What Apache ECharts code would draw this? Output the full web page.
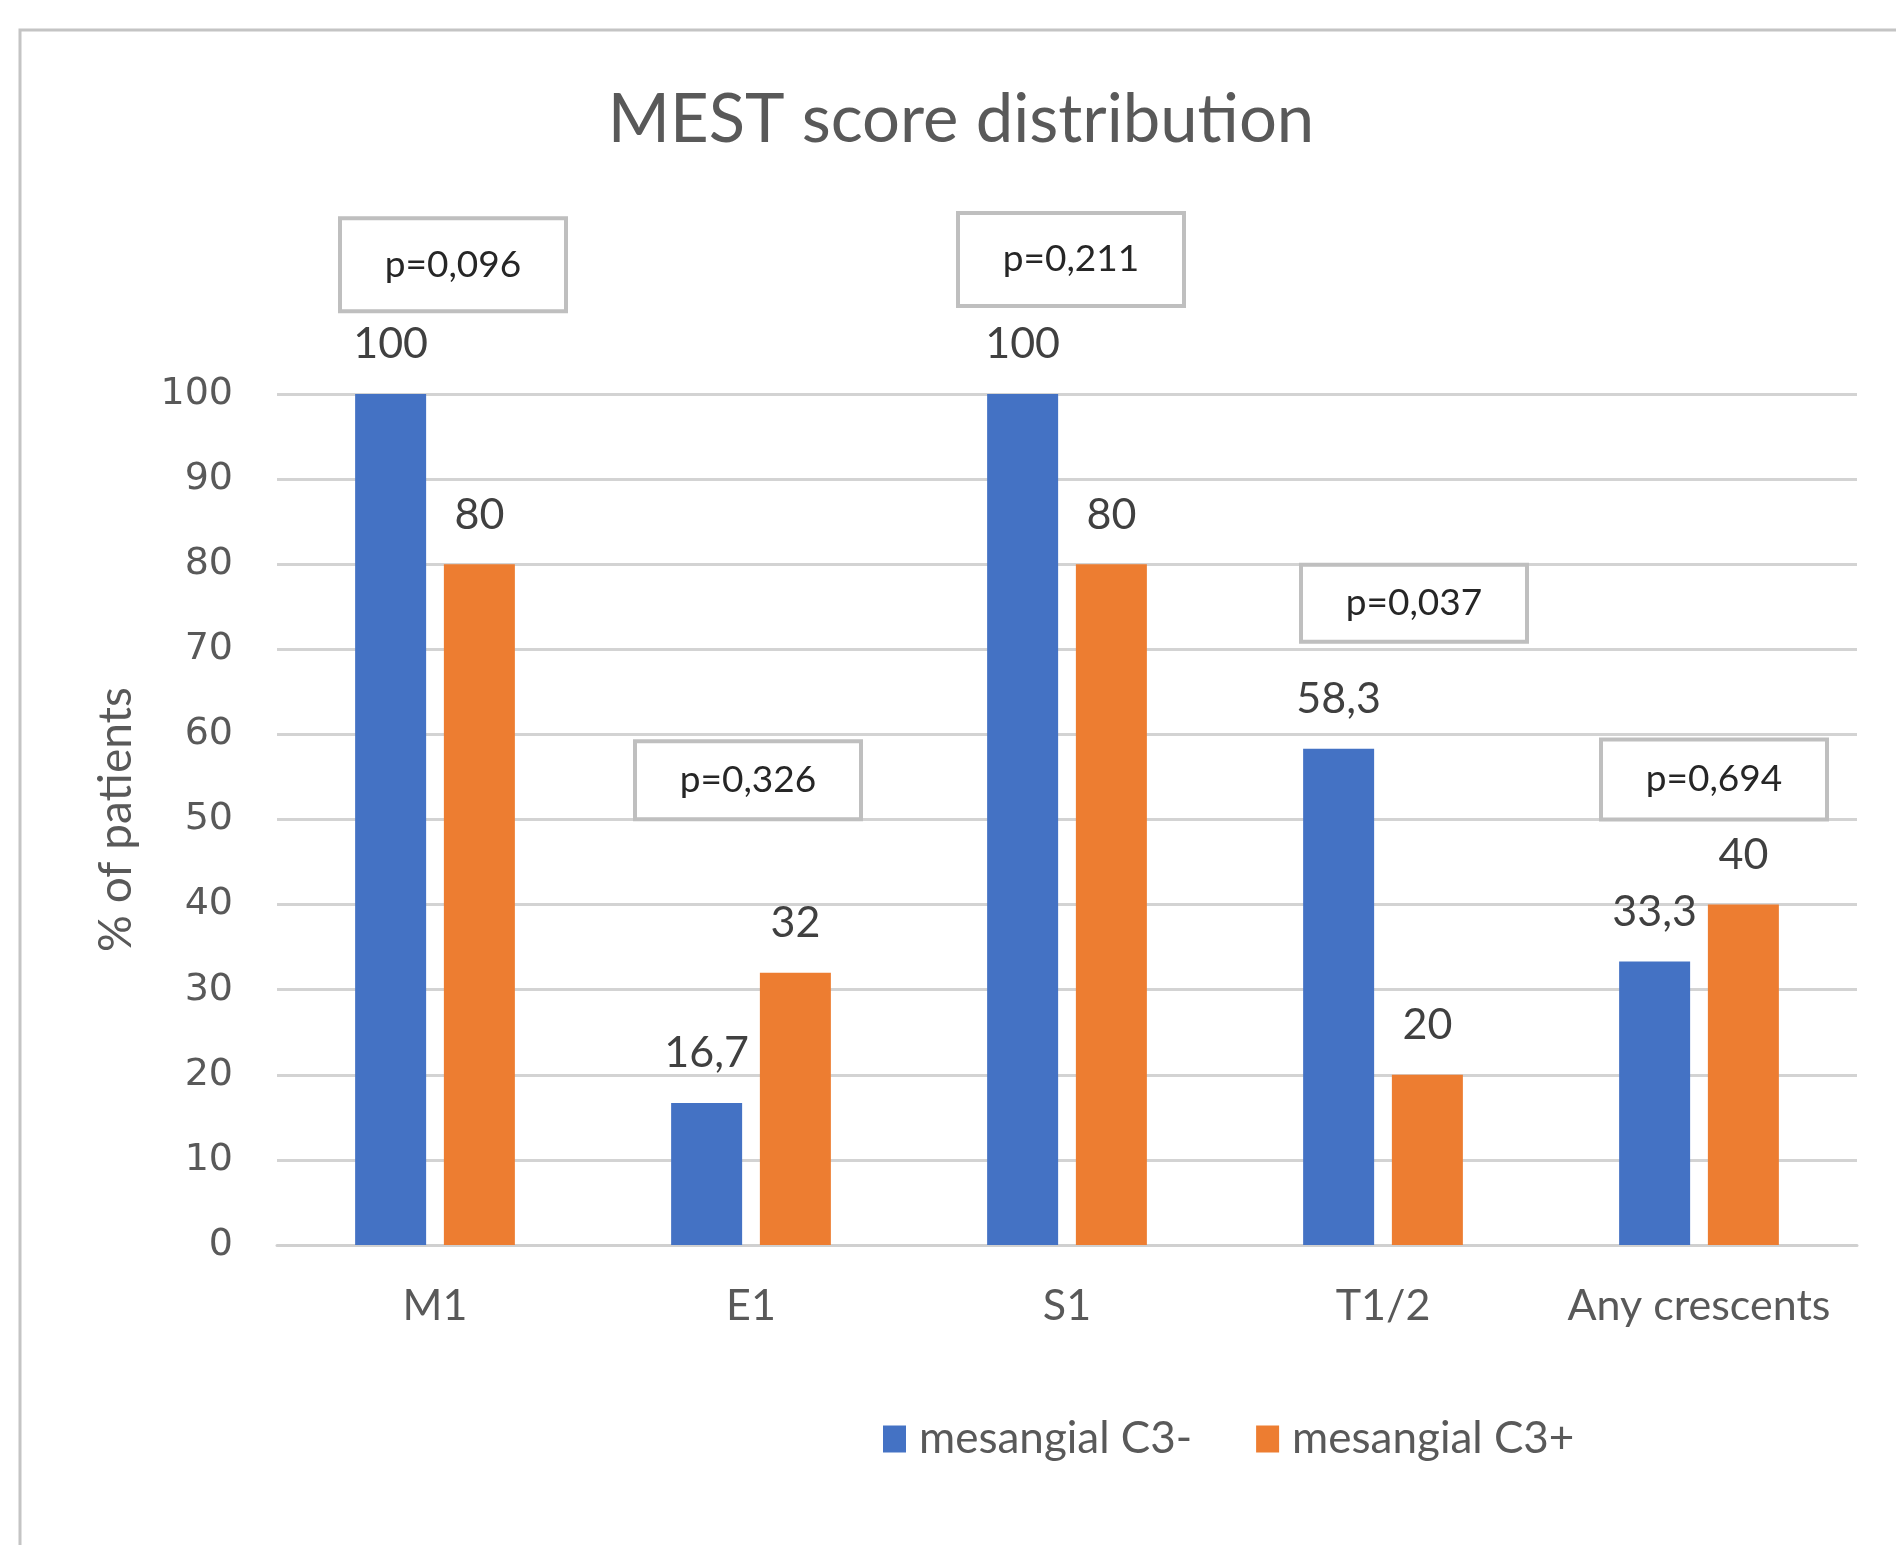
<!DOCTYPE html>
<html>
<head>
<meta charset="utf-8">
<script src="https://cdn.jsdelivr.net/npm/echarts@6/dist/echarts.min.js"></script>
<style>
  html, body { margin: 0; padding: 0; background: #fff; }
  #chart { width: 1896px; height: 1545px; }
</style>
</head>
<body>
<div id="chart"></div>
<script>
// data
const categories = ['M1', 'E1', 'S1', 'T1/2', 'Any crescents'];
const c3Negative = [100, 16.7, 100, 58.3, 33.3];
const c3Positive = [80, 32, 80, 20, 40];
const pValues = ['p=0,096', 'p=0,326', 'p=0,211', 'p=0,037', 'p=0,694'];

// where the p-value boxes sit (value level, shift from category centre, box height)
const boxLevel = [115.2, 54.6, 115.8, 75.4, 54.7];
const boxShift = [18, -3, 4, 31, 15];
const boxHeight = [93, 78, 93, 77, 80];

const font = 'Lato';
const textGray = '#595959';

function comma(p) {
  return String(p.value).replace('.', ',');
}

const myChart = echarts.init(document.getElementById('chart'));

const option = {
  backgroundColor: '#fff',
  animation: false,
  title: {
    text: 'MEST score distribution',
    left: 956,
    top: 82,
    textAlign: 'center',
    textStyle: { fontFamily: font, fontSize: 67, fontWeight: 'normal', color: textGray }
  },
  legend: {
    data: ['mesangial C3-', 'mesangial C3+'],
    left: 878,
    top: 1412,
    itemWidth: 23,
    itemHeight: 27,
    itemGap: 64,
    icon: 'rect',
    textStyle: { fontFamily: font, fontSize: 44, color: textGray, padding: [0, 0, 0, 8] }
  },
  grid: { left: 277, right: 39, top: 394, bottom: 300 },
  xAxis: {
    type: 'category',
    data: categories,
    axisTick: { show: false },
    axisLine: { lineStyle: { color: '#d0d0d0', width: 3 } },
    axisLabel: { interval: 0, fontFamily: font, fontSize: 43, color: textGray, margin: 40 }
  },
  yAxis: {
    type: 'value',
    min: 0,
    max: 100,
    interval: 10,
    name: '% of patients',
    nameLocation: 'middle',
    nameGap: 138,
    nameTextStyle: { fontFamily: font, fontSize: 46, color: textGray },
    axisLabel: { fontFamily: 'DejaVu Sans', fontSize: 38, color: textGray, margin: 44 },
    splitLine: { lineStyle: { color: '#d3d3d3', width: 3 } }
  },
  series: [
    {
      name: 'mesangial C3-',
      type: 'bar',
      data: c3Negative,
      barWidth: 71,
      barGap: '25%',
      itemStyle: { color: '#4472C4' },
      label: {
        show: true, position: 'top', distance: 28, formatter: comma,
        fontFamily: font, fontSize: 43, color: '#404040'
      }
    },
    {
      name: 'mesangial C3+',
      type: 'bar',
      data: c3Positive,
      barWidth: 71,
      itemStyle: { color: '#ED7D31' },
      label: {
        show: true, position: 'top', distance: 28, formatter: comma,
        fontFamily: font, fontSize: 43, color: '#404040'
      }
    }
  ]
};

myChart.setOption(option);

// frame and p-value boxes, anchored to the axes
const graphics = [{
  type: 'rect',
  shape: { x: 20, y: 30, width: 1900, height: 1600 },
  style: { fill: null, stroke: '#c4c4c4', lineWidth: 3 },
  z: -1
}];
pValues.forEach((p, i) => {
  const cx = myChart.convertToPixel({ xAxisIndex: 0 }, categories[i]) + boxShift[i];
  const cy = myChart.convertToPixel({ yAxisIndex: 0 }, boxLevel[i]);
  const w = 226, h = boxHeight[i];
  graphics.push({
    type: 'rect',
    shape: { x: cx - w / 2, y: cy - h / 2, width: w, height: h },
    style: { fill: '#fff', stroke: '#bfbfbf', lineWidth: 4 },
    z: 10
  });
  graphics.push({
    type: 'text',
    x: cx, y: cy,
    style: {
      text: p, fill: '#262626', fontFamily: font, fontSize: 37,
      align: 'center', verticalAlign: 'middle'
    },
    z: 11
  });
});
myChart.setOption({ graphic: graphics });

window.addEventListener('resize', myChart.resize);
</script>
</body>
</html>
